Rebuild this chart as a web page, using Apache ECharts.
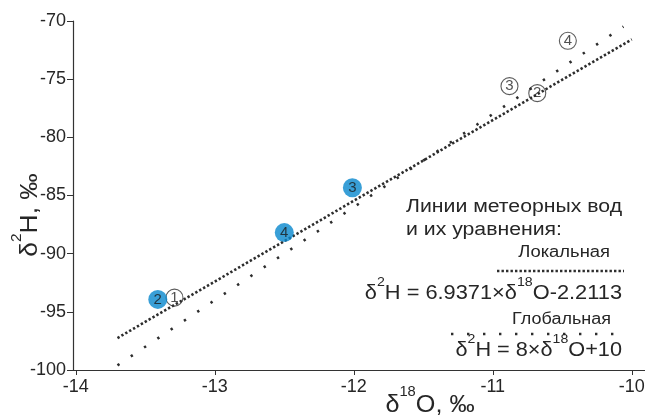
<!DOCTYPE html>
<html><head><meta charset="utf-8">
<script src="https://cdn.jsdelivr.net/npm/echarts@6/dist/echarts.min.js"></script>
<style>html,body{margin:0;padding:0;background:#fff}#c{width:645px;height:417px}</style>
</head><body><div id="c"></div>
<script>
// ---- data ----
const xTicks = [-14, -13, -12, -11, -10];
const yTicks = [-100, -95, -90, -85, -80, -75, -70];
const filledLabels = ['2', '4', '3'];
const filledX = [-13.41, -12.50, -12.01];
const filledY = [-93.93, -88.19, -84.34];
const openLabels = ['1', '3', '2', '4'];
const openX = [-13.29, -10.88, -10.68, -10.46];
const openY = [-93.78, -75.6, -76.2, -71.7];
const localLineX = [-13.7, -10.0];
const localLineY = [-97.25, -71.58];
const globalLineX = [-13.7, -10.06];
const globalLineY = [-99.6, -70.48];
const legendTitle1 = 'Линии метеорных вод';
const legendTitle2 = 'и их уравнения:';
const localName = 'Локальная';
const globalName = 'Глобальная';

const FF = '"Liberation Sans", Arial, Helvetica, sans-serif';
const TXT = '#262626';
const zip = (xs, ys, names) => xs.map((x, i) => names ? { value: [x, ys[i]], name: names[i] } : [x, ys[i]]);

function supText(parts) {
  return parts.map(p => '{' + (p[1] ? 's' : 'a') + '|' + p[0] + '}').join('');
}
function richFor(size, supSize) {
  return {
    a: { fontSize: size, fontFamily: FF, fill: TXT, color: TXT, lineHeight: Math.round(size * 1.7), verticalAlign: 'middle' },
    s: { fontSize: supSize, fontFamily: FF, fill: TXT, color: TXT, lineHeight: supSize, verticalAlign: 'top' }
  };
}
function plain(text, x, y, size, align, sx) {
  return { type: 'text', x: x, y: y, scaleX: sx, z: 10,
    style: { text: text, font: size + 'px ' + FF, fill: TXT, align: align, textAlign: align, verticalAlign: 'top', textVerticalAlign: 'top' } };
}

const chart = echarts.init(document.getElementById('c'), null, { renderer: 'canvas' });

const option = {
  backgroundColor: '#fff',
  animation: false,
  grid: { left: 73, right: 0, top: 21, bottom: 47, containLabel: false, outerBoundsMode: 'none' },
  xAxis: {
    type: 'value', min: -14.02, max: -9.905,
    axisLine: { show: true, onZero: false, lineStyle: { color: '#333', width: 1.2 } },
    axisTick: { show: true, length: 5, customValues: xTicks, lineStyle: { color: '#333' } },
    axisLabel: { customValues: xTicks, fontSize: 18, fontFamily: FF, color: TXT, margin: 8 },
    splitLine: { show: false }
  },
  yAxis: {
    type: 'value', min: -100, max: -70, interval: 5,
    axisLine: { show: true, onZero: false, lineStyle: { color: '#333', width: 1.2 } },
    axisTick: { show: true, length: 6, customValues: yTicks, lineStyle: { color: '#333' } },
    axisLabel: { customValues: yTicks, fontSize: 18, fontFamily: FF, color: TXT, margin: 7 },
    splitLine: { show: false }
  },
  series: [
    {
      type: 'line', data: zip(localLineX, localLineY), symbol: 'none', silent: true, z: 2,
      lineStyle: { color: '#2d2d2d', width: 2.6, type: [2.4, 2.1], cap: 'butt' }
    },
    {
      type: 'line', data: zip(globalLineX, globalLineY), symbol: 'none', silent: true, z: 2,
      lineStyle: { color: '#2d2d2d', width: 2.6, type: [2.4, 13.6], cap: 'butt' }
    },
    {
      type: 'scatter', data: zip(openX, openY, openLabels), symbol: 'circle', symbolSize: 17, z: 3,
      itemStyle: { color: 'rgba(255,255,255,0)', borderColor: '#333', borderWidth: 1.1 },
      label: { show: true, position: 'inside', formatter: '{b}', fontSize: 15, fontFamily: FF, color: TXT }
    },
    {
      type: 'scatter', data: zip(filledX, filledY, filledLabels), symbol: 'circle', symbolSize: 19, z: 4,
      itemStyle: { color: '#0787cd', borderWidth: 0 },
      label: { show: true, position: 'inside', formatter: '{b}', fontSize: 15, fontFamily: FF, color: '#1a1a1a' }
    }
  ],
  graphic: [
    // axis titles
    { type: 'text', x: 430, y: 385, scaleX: 1.05, z: 10,
      style: { text: supText([['δ', 0], ['18', 1], ['O, ‰', 0]]), rich: richFor(24, 14), align: 'center', textAlign: 'center', verticalAlign: 'top', textVerticalAlign: 'top' } },
    { type: 'text', x: 10, y: 215, rotation: Math.PI / 2, scaleX: 1.1, z: 10,
      style: { text: supText([['δ', 0], ['2', 1], ['H, ‰', 0]]), rich: richFor(24, 14), align: 'center', textAlign: 'center', verticalAlign: 'top', textVerticalAlign: 'top' } },
    // legend block
    plain(legendTitle1, 406, 198, 18, 'left', 1.18),
    plain(legendTitle2, 406, 221, 18, 'left', 1.18),
    plain(localName, 610, 245, 16, 'right', 1.15),
    { type: 'line', z: 10, shape: { x1: 497, y1: 271, x2: 624, y2: 271 },
      style: { stroke: '#2d2d2d', lineWidth: 2.6, lineDash: [2.4, 2.1] } },
    { type: 'text', x: 622, y: 276, scaleX: 1.09, z: 10,
      style: { text: supText([['δ', 0], ['2', 1], ['H = 6.9371×δ', 0], ['18', 1], ['O-2.2113', 0]]), rich: richFor(20, 13), align: 'right', textAlign: 'right', verticalAlign: 'top', textVerticalAlign: 'top' } },
    plain(globalName, 611, 312, 16, 'right', 1.125),
    { type: 'line', z: 10, shape: { x1: 451, y1: 334, x2: 615, y2: 334 },
      style: { stroke: '#2d2d2d', lineWidth: 2.6, lineDash: [2.4, 13.6] } },
    { type: 'text', x: 622, y: 333, scaleX: 1.085, z: 10,
      style: { text: supText([['δ', 0], ['2', 1], ['H = 8×δ', 0], ['18', 1], ['O+10', 0]]), rich: richFor(20, 13), align: 'right', textAlign: 'right', verticalAlign: 'top', textVerticalAlign: 'top' } }
  ]
};
chart.setOption(option);
</script>
</body></html>
